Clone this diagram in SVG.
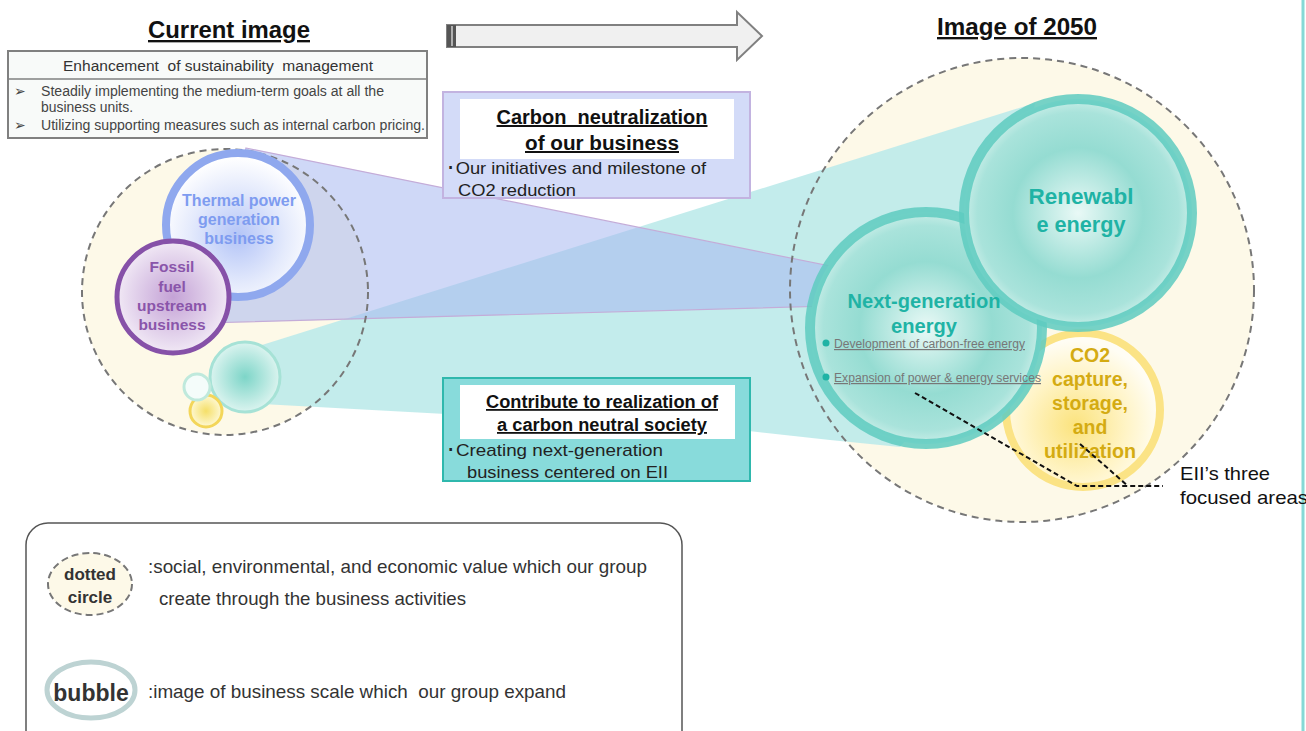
<svg xmlns="http://www.w3.org/2000/svg" width="1306" height="731" viewBox="0 0 1306 731">
<style>
text{font-family:"Liberation Sans",Arial,sans-serif;white-space:pre;}
.h{font-size:23.5px;font-weight:bold;fill:#111;text-decoration:underline;}
.dash{fill:none;stroke:#777;stroke-width:2;stroke-dasharray:7 5;}
.cream{fill:#fdf9e8;}
.bx{font-size:14px;fill:#444;}
.bt{fill:#111;font-weight:bold;text-decoration:underline;}
.bb{fill:#222;font-size:17px;}
.thermal{font-size:16px;font-weight:bold;fill:#7e9cf0;text-anchor:middle;}
.fossil{font-size:15.5px;font-weight:bold;fill:#8a55aa;text-anchor:middle;}
.teal{font-weight:bold;fill:#1fb3a5;text-anchor:middle;}
.co2{font-size:19.5px;font-weight:bold;fill:#d4ab12;text-anchor:middle;}
.small{font-size:12px;fill:#777;text-decoration:underline;}
.leg{font-size:18.5px;fill:#333;}
.ann{fill:none;stroke:#111;stroke-width:2;stroke-dasharray:5 3;}
</style>
<defs>
<radialGradient id="gTherm" cx="50%" cy="58%" r="55%"><stop offset="0" stop-color="#b3c4f7"/><stop offset="0.6" stop-color="#e4eafc"/><stop offset="1" stop-color="#ffffff"/></radialGradient>
<radialGradient id="gFoss" cx="50%" cy="50%" r="55%"><stop offset="0" stop-color="#c4a2d6"/><stop offset="0.7" stop-color="#e6d8ee"/><stop offset="1" stop-color="#f6f0f8"/></radialGradient>
<radialGradient id="gTeal" cx="50%" cy="50%" r="52%"><stop offset="0" stop-color="#e9f9f6"/><stop offset="0.55" stop-color="#95dcd2"/><stop offset="0.85" stop-color="#a9e3db"/><stop offset="1" stop-color="#d3f1ec"/></radialGradient>
<radialGradient id="gTealS" cx="50%" cy="50%" r="52%"><stop offset="0" stop-color="#7dd5c8"/><stop offset="1" stop-color="#dff5f1"/></radialGradient>
<radialGradient id="gYel" cx="45%" cy="60%" r="55%"><stop offset="0" stop-color="#fbe37e"/><stop offset="0.6" stop-color="#fff4c6"/><stop offset="1" stop-color="#fffdf4"/></radialGradient>
<radialGradient id="gYelS" cx="50%" cy="50%" r="55%"><stop offset="0" stop-color="#f5df68"/><stop offset="1" stop-color="#fffbe0"/></radialGradient>
</defs>

<!-- right edge line -->
<line x1="1303" y1="0" x2="1303" y2="731" stroke="#86d9d6" stroke-width="3"/>

<!-- titles -->
<text class="h" x="229" y="38" text-anchor="middle" textLength="162" lengthAdjust="spacingAndGlyphs">Current image</text>
<text class="h" x="1017" y="35" text-anchor="middle" textLength="160" lengthAdjust="spacingAndGlyphs">Image of 2050</text>

<!-- big arrow -->
<g id="arrow">
<path d="M447,25 H737 V12 L762,36 L737,60 V47 H447 Z" fill="#f0f0f0" stroke="#808080" stroke-width="2"/>
<rect x="447" y="25" width="9" height="22" fill="#555"/>
<line x1="452" y1="26" x2="452" y2="46" stroke="#eee" stroke-width="1.2"/>
</g>

<!-- value circles (fills) -->
<circle class="cream" cx="225" cy="292" r="143"/>
<circle class="cream" cx="1022" cy="290" r="232"/>

<!-- connectors (beams) -->
<g id="connectors">
<polygon points="262,345 1035,103 1000,330 900,447 830,440 740,430 262,404" fill="#bdeaea" opacity="0.9"/>
<polygon points="246,148 830,266 830,306 205,323" fill="#a8b8f0" fill-opacity="0.55" stroke="#c4acd8" stroke-width="1.2"/>
</g>

<!-- dashed outlines -->
<circle class="dash" cx="225" cy="292" r="143"/>
<circle class="dash" cx="1022" cy="290" r="232"/>

<!-- sustainability box -->
<g id="sustainability">
<rect x="8" y="51" width="419" height="87" fill="#f8faf9" stroke="#808080" stroke-width="2"/>
<line x1="8" y1="79" x2="427" y2="79" stroke="#808080" stroke-width="1.5"/>
<text x="218" y="71" text-anchor="middle" font-size="15.5" fill="#333" textLength="310" lengthAdjust="spacingAndGlyphs">Enhancement  of sustainability  management</text>
<text class="bx" x="14" y="96">➢</text>
<text class="bx" x="41" y="96" textLength="343" lengthAdjust="spacingAndGlyphs">Steadily implementing the medium-term goals at all the</text>
<text class="bx" x="41" y="112" textLength="92" lengthAdjust="spacingAndGlyphs">business units.</text>
<text class="bx" x="14" y="130">➢</text>
<text class="bx" x="41" y="130" textLength="384" lengthAdjust="spacingAndGlyphs">Utilizing supporting measures such as internal carbon pricing.</text>
</g>

<!-- left bubbles -->
<g id="thermal">
<circle cx="238" cy="225" r="72" fill="url(#gTherm)" stroke="#8fa8ee" stroke-width="8"/>
<text class="thermal" x="239" y="206">Thermal power</text>
<text class="thermal" x="239" y="225">generation</text>
<text class="thermal" x="239" y="244">business</text>
</g>
<g id="fossil">
<circle cx="173" cy="297" r="56" fill="url(#gFoss)" stroke="#8651a8" stroke-width="5"/>
<text class="fossil" x="172" y="272">Fossil</text>
<text class="fossil" x="172" y="292">fuel</text>
<text class="fossil" x="172" y="311">upstream</text>
<text class="fossil" x="172" y="330">business</text>
</g>
<g id="small-bubbles">
<circle cx="245" cy="377" r="35" fill="url(#gTealS)" stroke="#a6e2d6" stroke-width="3"/>
<circle cx="206" cy="411" r="16" fill="url(#gYelS)" stroke="#f3d65a" stroke-width="3"/>
<circle cx="197" cy="387" r="13" fill="#f4fcfa" stroke="#bfe9dc" stroke-width="3"/>
</g>

<!-- carbon neutralization box -->
<g id="carbon-box">
<rect x="443" y="92" width="307" height="106" fill="#d3dbf8" stroke="#c2b3e0" stroke-width="2"/>
<rect x="460" y="99" width="274" height="60" fill="#ffffff"/>
<text class="bt" x="602" y="124" font-size="20" text-anchor="middle" textLength="211" lengthAdjust="spacingAndGlyphs">Carbon  neutralization</text>
<text class="bt" x="602" y="150" font-size="20" text-anchor="middle" textLength="154" lengthAdjust="spacingAndGlyphs">of our business</text>
<text class="bb" x="446" y="174" textLength="260" lengthAdjust="spacingAndGlyphs">･Our initiatives and milestone of</text>
<text class="bb" x="458" y="196" textLength="118" lengthAdjust="spacingAndGlyphs">CO2 reduction</text>
</g>

<!-- contribute box -->
<g id="contribute-box">
<rect x="443" y="378" width="307" height="103" fill="#88dbdb" stroke="#2fb8ad" stroke-width="2"/>
<rect x="460" y="385" width="275" height="54" fill="#ffffff"/>
<text class="bt" x="602" y="408" font-size="18" text-anchor="middle" textLength="232" lengthAdjust="spacingAndGlyphs">Contribute to realization of</text>
<text class="bt" x="602" y="431" font-size="18" text-anchor="middle" textLength="210" lengthAdjust="spacingAndGlyphs">a carbon neutral society</text>
<text class="bb" x="446" y="456" textLength="217" lengthAdjust="spacingAndGlyphs">･Creating next-generation</text>
<text class="bb" x="467" y="478" textLength="201" lengthAdjust="spacingAndGlyphs">business centered on EII</text>
</g>

<!-- right bubbles -->
<g id="co2">
<circle cx="1083" cy="410" r="77" fill="url(#gYel)" stroke="#fbe385" stroke-width="8"/>
</g>
<g id="next-gen">
<circle cx="926" cy="328" r="116" fill="url(#gTeal)" stroke="#5ecbbf" stroke-width="10" stroke-opacity="0.85"/>
</g>
<g id="renewable">
<circle cx="1078" cy="213" r="114" fill="url(#gTeal)" stroke="#5ecbbf" stroke-width="10" stroke-opacity="0.85"/>
<text class="teal" x="1081" y="204" font-size="22" textLength="105" lengthAdjust="spacingAndGlyphs">Renewabl</text>
<text class="teal" x="1081" y="232" font-size="22" textLength="89" lengthAdjust="spacingAndGlyphs">e energy</text>
</g>
<g id="next-gen-text">
<text class="teal" x="924" y="308" font-size="19.5" textLength="153" lengthAdjust="spacingAndGlyphs">Next-generation</text>
<text class="teal" x="924" y="333" font-size="19.5" textLength="66" lengthAdjust="spacingAndGlyphs">energy</text>
<circle cx="826" cy="343" r="3.5" fill="#1fb3a5"/>
<text class="small" x="834" y="348" textLength="191" lengthAdjust="spacingAndGlyphs">Development of carbon-free energy</text>
<circle cx="826" cy="377" r="3.5" fill="#1fb3a5"/>
<text class="small" x="834" y="382" textLength="207" lengthAdjust="spacingAndGlyphs">Expansion of power &amp; energy services</text>
</g>
<g id="co2-text">
<text class="co2" x="1090" y="362">CO2</text>
<text class="co2" x="1090" y="386">capture,</text>
<text class="co2" x="1090" y="410">storage,</text>
<text class="co2" x="1090" y="434">and</text>
<text class="co2" x="1090" y="458" textLength="92" lengthAdjust="spacingAndGlyphs">utilization</text>
</g>

<!-- annotation -->
<g id="annotation">
<polyline class="ann" points="915,393 1077,486 1163,486"/>
<line class="ann" x1="1080" y1="444" x2="1128" y2="486"/>
<text x="1180" y="480" font-size="19" fill="#111" textLength="90" lengthAdjust="spacingAndGlyphs">EII’s three</text>
<text x="1180" y="504" font-size="19" fill="#111" textLength="128" lengthAdjust="spacingAndGlyphs">focused areas</text>
</g>

<!-- legend -->
<g id="legend">
<rect x="26" y="523" width="656" height="230" rx="22" fill="#ffffff" stroke="#555" stroke-width="1.5"/>
<ellipse cx="90" cy="584" rx="42" ry="31" fill="#fdf9e8" stroke="#777" stroke-width="2" stroke-dasharray="7 4"/>
<text x="90" y="580" font-size="17" font-weight="bold" fill="#333" text-anchor="middle">dotted</text>
<text x="90" y="603" font-size="17" font-weight="bold" fill="#333" text-anchor="middle">circle</text>
<text class="leg" x="148" y="573" textLength="499" lengthAdjust="spacingAndGlyphs">:social, environmental, and economic value which our group</text>
<text class="leg" x="159" y="605" textLength="307" lengthAdjust="spacingAndGlyphs">create through the business activities</text>
<ellipse cx="91" cy="690" rx="44" ry="28" fill="#ffffff" stroke="#bdd3d3" stroke-width="5"/>
<text x="91" y="701" font-size="23" font-weight="bold" fill="#333" text-anchor="middle">bubble</text>
<text class="leg" x="148" y="698" textLength="418" lengthAdjust="spacingAndGlyphs">:image of business scale which  our group expand</text>
</g>
</svg>
